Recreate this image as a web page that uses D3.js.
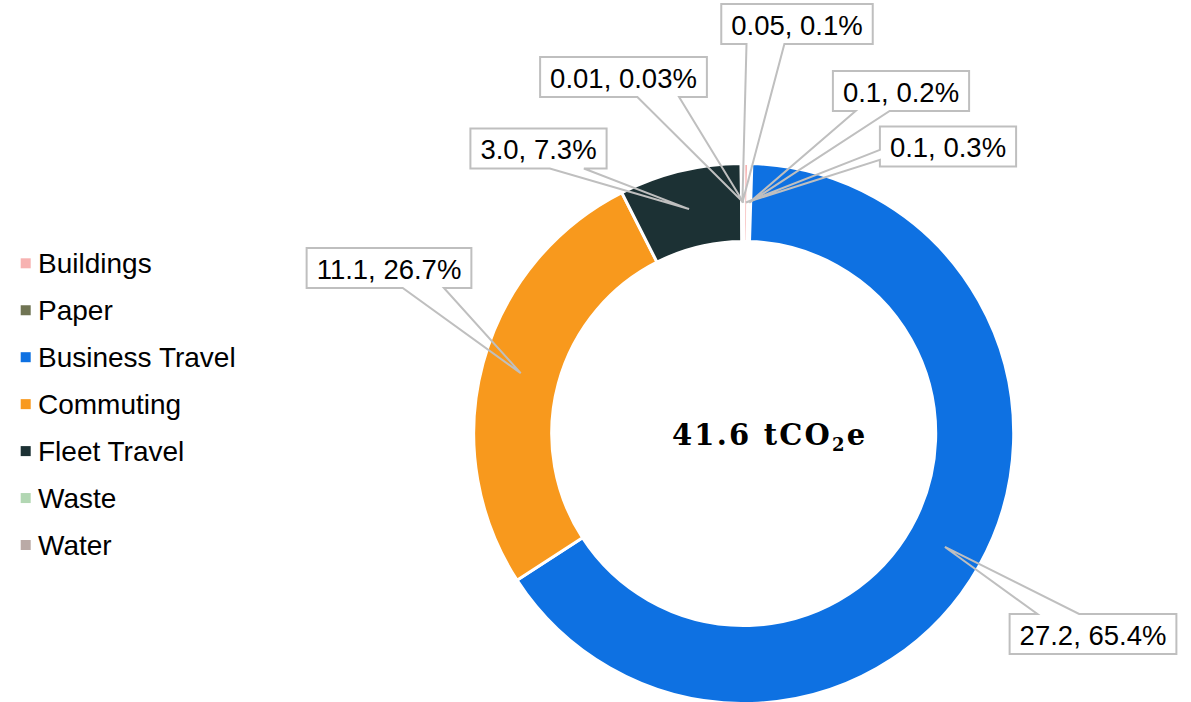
<!DOCTYPE html>
<html>
<head>
<meta charset="utf-8">
<script src="https://cdn.jsdelivr.net/npm/d3@7"></script>
<style>
  html, body { margin: 0; padding: 0; background: #ffffff; }
  svg { display: block; }
</style>
</head>
<body>
<svg id="chart" width="1191" height="702"></svg>
<script>
// ---- data ----
const categories = ["Buildings", "Paper", "Business Travel", "Commuting", "Fleet Travel", "Waste", "Water"];
const values = [0.12, 0.08, 27.2, 11.1, 3.04, 0.05, 0.012];
const valueLabels = ["0.1", "0.1", "27.2", "11.1", "3.0", "0.05", "0.01"];
const percentLabels = ["0.3%", "0.2%", "65.4%", "26.7%", "7.3%", "0.1%", "0.03%"];
const colors = ["#F7B2B1", "#707453", "#0E71E2", "#F8991D", "#1C3134", "#B2D7B3", "#BAAAA6"];
const totalValue = "41.6";

// ---- layout (label box centres, hand placed as in the original) ----
const labelCenters = [
  [948, 146.5], [901, 91], [1093, 634], [389, 268], [538.5, 148.5], [797, 24], [623.5, 77]
];
const calloutSide = ["left", "bottom", "top", "bottom", "bottom", "bottom", "bottom"];

const svg = d3.select("#chart");
const cx = 743.7, cy = 433.5, R = 270, r = 192;

const pie = d3.pie().sort(null).value(d => d.value).startAngle(0).endAngle(2 * Math.PI);
const data = categories.map((c, i) => ({ name: c, value: values[i], i }));
const arcs = pie(data);
const arc = d3.arc().innerRadius(r).outerRadius(R);
const color = d3.scaleOrdinal().domain(categories).range(colors);

const g = svg.append("g").attr("transform", `translate(${cx},${cy})`);
g.selectAll("path.slice").data(arcs).join("path")
  .attr("class", "slice")
  .attr("d", arc)
  .attr("fill", d => color(d.data.name))
  .attr("stroke", "#ffffff")
  .attr("stroke-width", 3)
  .attr("stroke-linejoin", "miter");

// centre text
const ct = svg.append("text")
  .attr("x", cx + 26).attr("y", 444.5)
  .attr("text-anchor", "middle")
  .attr("font-family", "'DejaVu Serif', Georgia, serif")
  .attr("font-weight", "bold")
  .attr("font-size", 29)
  .attr("letter-spacing", 2.2)
  .attr("fill", "#000");
ct.append("tspan").text(totalValue + " tCO");
ct.append("tspan").attr("font-size", 18).attr("dy", 6).text("2");
ct.append("tspan").attr("dy", -6).text("e");

// callouts
const labelFont = "'Liberation Sans', Arial, sans-serif";
const fs = 27.5, boxH = 40, pad = 10;
const calloutG = svg.append("g");
arcs.forEach((a, i) => {
  const c = arc.centroid(a);
  const tip = [cx + c[0], cy + c[1]];
  const txt = valueLabels[i] + ", " + percentLabels[i];
  const t = calloutG.append("text")
    .attr("font-family", labelFont).attr("font-size", fs).attr("fill", "#000")
    .text(txt);
  const w = t.node().getComputedTextLength() + 2 * pad;
  const [bx, by] = labelCenters[i];
  const l = bx - w / 2, rt = bx + w / 2, tp = by - boxH / 2, bt = by + boxH / 2;
  const side = calloutSide[i];
  const dxPos = tip[0] - bx, dyPos = tip[1] - by;
  const x1 = l + w * (dxPos > 0 ? 7 : 2) / 12, x2 = l + w * (dxPos > 0 ? 10 : 5) / 12;
  const y1 = tp + boxH * (dyPos > 0 ? 7 : 2) / 12, y2 = tp + boxH * (dyPos > 0 ? 10 : 5) / 12;
  const p = d3.path();
  if (side === "bottom") {
    p.moveTo(l, tp); p.lineTo(rt, tp); p.lineTo(rt, bt); p.lineTo(x2, bt);
    p.lineTo(tip[0], tip[1]); p.lineTo(x1, bt); p.lineTo(l, bt); p.closePath();
  } else if (side === "top") {
    p.moveTo(l, tp); p.lineTo(x1, tp); p.lineTo(tip[0], tip[1]); p.lineTo(x2, tp);
    p.lineTo(rt, tp); p.lineTo(rt, bt); p.lineTo(l, bt); p.closePath();
  } else if (side === "left") {
    p.moveTo(l, tp); p.lineTo(rt, tp); p.lineTo(rt, bt); p.lineTo(l, bt);
    p.lineTo(l, y2); p.lineTo(tip[0], tip[1]); p.lineTo(l, y1); p.closePath();
  } else {
    p.moveTo(l, tp); p.lineTo(rt, tp); p.lineTo(rt, y1); p.lineTo(tip[0], tip[1]);
    p.lineTo(rt, y2); p.lineTo(rt, bt); p.lineTo(l, bt); p.closePath();
  }
  calloutG.insert("rect", "text")
    .attr("x", l).attr("y", tp).attr("width", w).attr("height", boxH)
    .attr("fill", "#ffffff");
  calloutG.insert("path", "text")
    .attr("d", p.toString())
    .attr("fill", "none")
    .attr("stroke", "#BFBFBF")
    .attr("stroke-width", 2)
    .attr("stroke-linejoin", "miter");
  t.attr("x", l + pad).attr("y", by + 10.5);
});

// legend
const ly = d3.scalePoint().domain(categories).range([263.3, 545]);
const lg = svg.append("g");
const items = lg.selectAll("g").data(categories).join("g")
  .attr("transform", d => `translate(0,${ly(d)})`);
items.append("rect")
  .attr("x", 20.7).attr("y", -5).attr("width", 10).attr("height", 10)
  .attr("fill", d => color(d));
items.append("text")
  .attr("x", 38).attr("y", 9.5)
  .attr("font-family", labelFont).attr("font-size", 28)
  .attr("fill", "#000")
  .text(d => d);
</script>
</body>
</html>
